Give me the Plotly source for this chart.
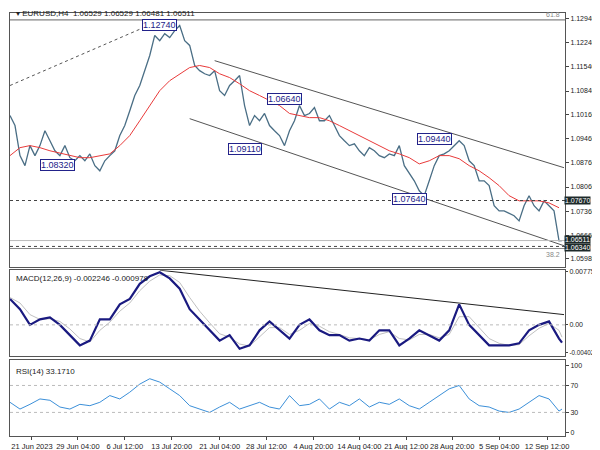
import plotly.graph_objects as go

x_price = list(range(0, 551, 5)) + [553]
close = [1.1013,1.0984,1.0897,1.0868,1.0926,1.0897,1.0926,1.0969,1.0940,1.0911,1.0897,1.0926,1.0891,1.0882,1.0897,1.0882,1.0902,1.0868,1.0853,1.0882,1.0897,1.0911,1.0955,1.0984,1.1027,1.1071,1.1100,1.1143,1.1187,1.1245,1.1230,1.1250,1.1239,1.1259,1.1274,1.1230,1.1216,1.1158,1.1143,1.1134,1.1129,1.1143,1.1085,1.1071,1.1100,1.1114,1.1129,1.1042,1.0984,1.1013,1.0998,1.1019,1.0984,1.0969,1.0955,1.0926,1.0969,1.0998,1.1042,1.1013,1.1019,1.1036,1.0998,1.0998,1.1013,1.0984,1.0955,1.0940,1.0926,1.0931,1.0911,1.0897,1.0920,1.0911,1.0897,1.0891,1.0902,1.0897,1.0926,1.0868,1.0844,1.0824,1.0795,1.0781,1.0824,1.0868,1.0897,1.0902,1.0911,1.0926,1.0940,1.0926,1.0882,1.0868,1.0824,1.0824,1.0810,1.0752,1.0737,1.0737,1.0729,1.0723,1.0708,1.0752,1.0781,1.0752,1.0737,1.0766,1.0752,1.0737,1.0650,1.0651]

x_ind = list(range(0, 551, 10)) + [553]
ma = [1.0897,1.0920,1.0926,1.0920,1.0911,1.0905,1.0897,1.0891,1.0891,1.0897,1.0902,1.0926,1.0955,1.0998,1.1042,1.1085,1.1114,1.1134,1.1152,1.1158,1.1152,1.1134,1.1123,1.1105,1.1085,1.1071,1.1056,1.1042,1.1019,1.1013,1.1007,1.1007,1.0998,1.0984,1.0969,1.0955,1.0940,1.0926,1.0911,1.0902,1.0891,1.0873,1.0882,1.0897,1.0897,1.0888,1.0868,1.0853,1.0833,1.0810,1.0781,1.0766,1.0766,1.0766,1.0760,1.0746]
macd = [0.0038,0.0023,0.0000,0.0008,0.0011,0.0000,-0.0015,-0.0030,-0.0023,0.0008,0.0008,0.0030,0.0038,0.0060,0.0071,0.0077,0.0068,0.0053,0.0023,0.0008,-0.0008,-0.0023,-0.0015,-0.0035,-0.0030,-0.0008,0.0005,-0.0008,-0.0020,0.0000,0.0008,-0.0008,-0.0015,-0.0015,-0.0023,-0.0020,-0.0023,-0.0008,-0.0008,-0.0030,-0.0020,-0.0008,-0.0015,-0.0023,-0.0008,0.0030,0.0000,-0.0015,-0.0030,-0.0030,-0.0030,-0.0027,-0.0008,0.0000,0.0005,-0.0020,-0.0026]
signal = [0.0040,0.0032,0.0015,0.0008,0.0009,0.0005,-0.0006,-0.0020,-0.0025,-0.0008,0.0004,0.0020,0.0032,0.0050,0.0064,0.0073,0.0072,0.0062,0.0040,0.0020,0.0003,-0.0013,-0.0018,-0.0028,-0.0031,-0.0018,-0.0004,-0.0004,-0.0014,-0.0008,0.0002,-0.0002,-0.0010,-0.0014,-0.0019,-0.0020,-0.0022,-0.0014,-0.0010,-0.0020,-0.0022,-0.0014,-0.0014,-0.0019,-0.0014,0.0012,0.0012,-0.0004,-0.0020,-0.0027,-0.0030,-0.0029,-0.0016,-0.0005,0.0002,-0.0008,-0.0018]
rsi = [45,35,42,50,48,38,35,42,40,45,55,50,60,72,80,75,65,55,40,35,30,38,45,35,40,45,38,35,55,40,42,50,35,45,40,50,38,45,42,50,40,35,45,55,65,70,50,40,38,32,30,35,45,55,50,32,35]

tick_pos = [22,68,115,162,210,257,304,350,397,443,490,538]
tick_text = ["21 Jun 2023","29 Jun 04:00","6 Jul 12:00","13 Jul 20:00","21 Jul 04:00","28 Jul 12:00","4 Aug 20:00","14 Aug 04:00","21 Aug 12:00","28 Aug 20:00","5 Sep 04:00","12 Sep 12:00"]
price_ticks = [1.12940,1.12240,1.11540,1.10840,1.10160,1.09460,1.08760,1.08060,1.07360,1.06660,1.05980]
price_tick_text = ["1.12940","1.12240","1.11540","1.10840","1.10160","1.09460","1.08760","1.08060","1.07360","1.06660","1.05980"]

FONT = "Liberation Sans"
fig = go.Figure()
fig.add_trace(go.Scatter(x=x_price, y=close, mode="lines", line=dict(color="#4a6e85", width=1.3), xaxis="x", yaxis="y"))
fig.add_trace(go.Scatter(x=x_ind, y=ma, mode="lines", line=dict(color="#e83a3a", width=1), xaxis="x", yaxis="y"))
fig.add_trace(go.Scatter(x=x_ind, y=signal, mode="lines", line=dict(color="#c0c0c0", width=1), xaxis="x2", yaxis="y2"))
fig.add_trace(go.Scatter(x=x_ind, y=macd, mode="lines", line=dict(color="#1a1a80", width=2.2), xaxis="x2", yaxis="y2"))
fig.add_trace(go.Scatter(x=x_ind, y=rsi, mode="lines", line=dict(color="#3b8fd8", width=1), xaxis="x3", yaxis="y3"))

for (x0,y0,x1,y1,dash,yr) in [(205,1.1172,555,1.0862,"solid","y"),(180,1.1004,555,1.0636,"solid","y"),(0,1.1100,150,1.1288,"dot","y"),(150,0.0080,555,0.0015,"solid","y2")]:
    fig.add_shape(type="line", x0=x0, y0=y0, x1=x1, y1=y1, xref="x" if yr=="y" else "x2", yref=yr, line=dict(color="#555" if yr=="y" else "#222", width=1, dash=dash))
for (yv,dash,col) in [(1.1290,"solid","#666"),(1.0767,"dot","#444"),(1.0634,"dot","#444"),(1.0651,"solid","#bbb"),(1.0628,"solid","#888")]:
    fig.add_shape(type="line", x0=0, x1=556, y0=yv, y1=yv, xref="x", yref="y", line=dict(color=col, width=1, dash=dash))
fig.add_shape(type="line", x0=0, x1=556, y0=0, y1=0, xref="x2", yref="y2", line=dict(color="#bbb", width=1, dash="dot"))
for yv in [30,70]:
    fig.add_shape(type="line", x0=0, x1=556, y0=yv, y1=yv, xref="x3", yref="y3", line=dict(color="#bbb", width=1, dash="dot"))

labels = [(150,1.1274,"1.12740"),(275,1.1060,"1.06640"),(235,1.0917,"1.09110"),(48,1.0870,"1.08320"),(425,1.0946,"1.09440"),(400,1.0770,"1.07640")]
ann = []
for (xv,yv,t) in labels:
    ann.append(dict(x=xv, y=yv, xref="x", yref="y", text=t, showarrow=False, font=dict(size=9, color="#22228a", family=FONT), bgcolor="white", bordercolor="#22228a", borderwidth=1, borderpad=0))
for (yv,t) in [(1.0767,"1.07670"),(1.0655,"1.06511"),(1.0632,"1.06340")]:
    ann.append(dict(x=0.999, y=yv, xref="paper", yref="y", xanchor="left", text=t, showarrow=False, font=dict(size=7, color="white", family=FONT), bgcolor="#1e2a2a", borderpad=0))
ann += [
    dict(x=4, y=1.1310, xref="x", yref="y", xanchor="left", text="▾ EURUSD,H4  1.06529 1.06529 1.06481 1.06511", showarrow=False, font=dict(size=8, color="#222")),
    dict(x=553, y=1.1290, xref="x", yref="y", xanchor="right", yanchor="bottom", text="61.8", showarrow=False, font=dict(size=7, color="#888")),
    dict(x=553, y=1.0628, xref="x", yref="y", xanchor="right", yanchor="top", text="38.2", showarrow=False, font=dict(size=7, color="#888")),
    dict(x=4, y=0.0077, xref="x2", yref="y2", xanchor="left", yanchor="top", text="MACD(12,26,9) -0.002246 -0.000979", showarrow=False, font=dict(size=8, color="#222")),
    dict(x=4, y=100, xref="x3", yref="y3", xanchor="left", yanchor="top", text="RSI(14) 33.1710", showarrow=False, font=dict(size=8, color="#222")),
]

ax = dict(range=[0,556], showgrid=False, zeroline=False, showline=True, linecolor="#555", mirror=True, ticks="", showticklabels=False)
yax = dict(side="right", showgrid=False, zeroline=False, showline=True, linecolor="#555", mirror=True, ticks="outside", ticklen=3, tickfont=dict(size=7))
fig.update_layout(
    width=600, height=450, margin=dict(l=2, r=43, t=5, b=22),
    plot_bgcolor="white", paper_bgcolor="white", showlegend=False,
    font=dict(family=FONT, size=8, color="#222"),
    xaxis=dict(ax, anchor="y"), xaxis2=dict(ax, anchor="y2", matches="x"),
    xaxis3=dict(ax, anchor="y3", matches="x", showticklabels=True, tickvals=tick_pos, ticktext=tick_text, ticks="outside", ticklen=3, tickangle=0, tickfont=dict(size=7.5)),
    yaxis=dict(yax, domain=[0.40,1], range=[1.0575,1.1310], tickvals=price_ticks, ticktext=price_tick_text),
    yaxis2=dict(yax, domain=[0.19,0.392], range=[-0.0045,0.0080], tickvals=[0.007753,0.0,-0.004027], ticktext=["0.007753","0.00","<span style='font-size:6.3px'>-0.004027</span>"], ticklen=2),
    yaxis3=dict(yax, domain=[0,0.18], range=[-5,108], tickvals=[0,30,70,100]),
    annotations=ann,
)
fig.write_html("out.html")
